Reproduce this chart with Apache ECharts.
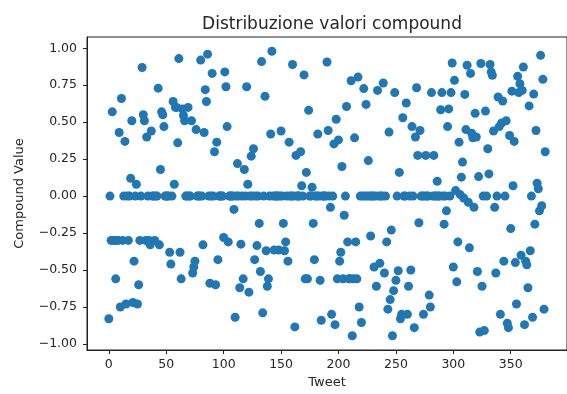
<!DOCTYPE html>
<html>
<head>
<meta charset="utf-8">
<script src="https://cdn.jsdelivr.net/npm/echarts@6/dist/echarts.min.js"></script>
<style>
html,body{margin:0;padding:0;background:#fff;}
#chart{width:567px;height:394px;}
</style>
</head>
<body>
<div id="chart"></div>
<script>
// Compound value for each tweet index (0..380)
const compound = [
-0.83, 0, -0.30, 0.57, -0.30, -0.30, -0.56, -0.30, -0.30, 0.43,
-0.75, 0.66, -0.30, 0, 0.37, -0.73, 0, -0.30, 0, 0.12,
0.51, -0.72, -0.44, 0, 0.08, -0.73, -0.60, -0.30, 0, 0.87,
0.55, 0.51, -0.30, 0.40, 0, -0.30, -0.33, 0.44, 0, 0,
-0.30, 0, 0, 0.73, -0.33, 0.18, 0.57, 0.55, 0.47, 0,
0, 0, 0, -0.38, -0.46, 0, 0.64, 0.08, 0.60, 0.60,
0.36, 0.93, -0.38, -0.56, 0.59, 0.545, 0.51, 0, 0, 0.60,
0, 0, 0.51, -0.52, -0.48, -0.44, 0.45, 0, 0, 0,
0.92, 0, -0.33, 0.43, 0.72, 0.64, 0.96, 0, -0.59, 0,
0.83, 0, 0.30, -0.60, 0.365, -0.43, 0, 0, 0, 0,
-0.28, 0.84, 0.74, 0.47, -0.31, 0, 0, 0, 0, -0.09,
-0.82, 0, 0.22, 0, -0.62, -0.325, 0, -0.56, 0.18, 0,
0.74, 0.08, -0.65, 0, 0.27, 0, 0.32, -0.43, 0, -0.335,
0, -0.185, -0.51, 0.91, -0.79, 0, 0.675, -0.37, -0.61, -0.56,
0, 0.42, 0.98, 0, -0.365, 0, 0, 0, -0.365, 0,
0.44, 0, -0.185, -0.37, -0.31, 0, -0.44, 0.365, 0, 0,
0.89, 0, -0.885, 0.275, 0, 0, 0, 0.30, 0.07, 0,
0.82, -0.56, 0.16, -0.56, 0.58, 0, 0, 0.06, -0.185, -0.43,
0, 0, 0.42, 0, -0.57, -0.84, 0, 0, 0, 0,
0.907, 0.444, 0, -0.076, -0.80, 0, 0.353, -0.87, 0.52, -0.56,
0.38, -0.44, -0.38, 0.20, -0.56, -0.13, 0, 0.606, -0.31, -0.56,
-0.56, 0.78, -0.945, -0.56, 0.394, -0.31, -0.56, 0.805, -0.75, 0,
-0.855, 0, 0.727, 0, 0.62, 0, 0.24, 0, -0.27, 0,
0, -0.48, 0, -0.61, 0.715, 0, -0.455, 0, 0, 0.765,
-0.52, 0, -0.31, -0.765, 0.433, -0.70, -0.23, -0.945, -0.64, 0.70,
-0.57, 0, -0.505, 0.16, -0.83, -0.80, 0.53, 0, 0, 0.63,
-0.80, -0.61, 0, -0.50, 0.47, 0, -0.89, 0.40, 0.733, 0.275,
-0.18, 0.444, 0, 0, -0.80, 0, 0.275, 0, 0, -0.67,
-0.75, 0.70, 0, 0.275, 0, 0, 0.10, 0, 0, 0.584,
0.70, 0, -0.19, 0, -0.10, 0.47, 0.59, 0, 0.70, 0.90,
-0.48, 0.783, 0.037, -0.58, -0.31, 0.365, 0.01, 0.128, 0.23, -0.013,
0.688, 0.45, 0.885, -0.042, -0.35, 0.83, 0.425, 0.395, -0.076, 0.56,
0.40, -0.51, 0.132, -0.92, 0.897, -0.61, 0, -0.91, 0.575, 0,
0.32, 0.15, 0.89, 0.84, 0.817, 0.44, -0.076, -0.52, 0, 0.67,
0.47, -0.80, 0.494, 0.643, -0.44, 0, 0.51, -0.86, -0.89, 0.41,
-0.22, 0.71, 0.07, 0.37, -0.45, -0.73, 0.81, 0.70, 0.76, -0.40,
0.715, 0.873, -0.87, -0.44, -0.465, -0.62, 0.61, -0.37, 0, -0.82,
0.69, -0.19, 0.444, 0.087, 0.05, -0.1, 0.952, -0.065, 0.79, -0.765,
0.30
];
const xTicks = [0, 50, 100, 150, 200, 250, 300, 350];
const yTicks = [-1.0, -0.75, -0.5, -0.25, 0, 0.25, 0.5, 0.75, 1.0];
const titleText = 'Distribuzione valori compound';
const xName = 'Tweet';
const yName = 'Compound Value';

const points = compound.map((v, i) => [i, v]);
const n = compound.length - 1;
const yMinData = Math.min(...compound), yMaxData = Math.max(...compound);
const yr = yMaxData - yMinData;

const font = 'DejaVu Sans';
const ink = '#262626';
const chart = echarts.init(document.getElementById('chart'), null, {renderer: 'canvas'});
chart.setOption({
  animation: false,
  title: {
    text: titleText, left: 327, top: 11, textAlign: 'center',
    textStyle: {fontFamily: font, fontSize: 17, fontWeight: 'normal', color: ink}
  },
  grid: {left: 87, right: 0, top: 37, bottom: 44, show: true, borderColor: '#222', borderWidth: 1, backgroundColor: '#fff'},
  xAxis: {
    type: 'value', min: -0.05 * n, max: 1.05 * n,
    name: xName, nameLocation: 'middle', nameGap: 25,
    nameTextStyle: {fontFamily: font, fontSize: 13, color: ink},
    axisLine: {show: true, onZero: false, lineStyle: {color: '#222', width: 1}},
    axisTick: {show: true, customValues: xTicks, length: 4, lineStyle: {color: '#222'}},
    axisLabel: {customValues: xTicks, fontFamily: font, fontSize: 12.5, color: ink, margin: 8},
    splitLine: {show: false}
  },
  yAxis: {
    type: 'value', min: yMinData - 0.05 * yr, max: yMaxData + 0.05 * yr,
    name: yName, nameLocation: 'middle', nameGap: 61,
    nameTextStyle: {fontFamily: font, fontSize: 13, color: ink},
    axisLine: {show: true, onZero: false, lineStyle: {color: '#222', width: 1}},
    axisTick: {show: true, customValues: yTicks, length: 4, lineStyle: {color: '#222'}},
    axisLabel: {customValues: yTicks, fontFamily: font, fontSize: 12.5, color: ink, margin: 10,
      formatter: v => (v < 0 ? '\u2212' : '') + Math.abs(v).toFixed(2)},
    splitLine: {show: false}
  },
  series: [{
    type: 'scatter', data: points, symbol: 'circle', symbolSize: 9,
    itemStyle: {color: '#1f77b4', opacity: 1}
  }]
});
</script>
</body>
</html>
